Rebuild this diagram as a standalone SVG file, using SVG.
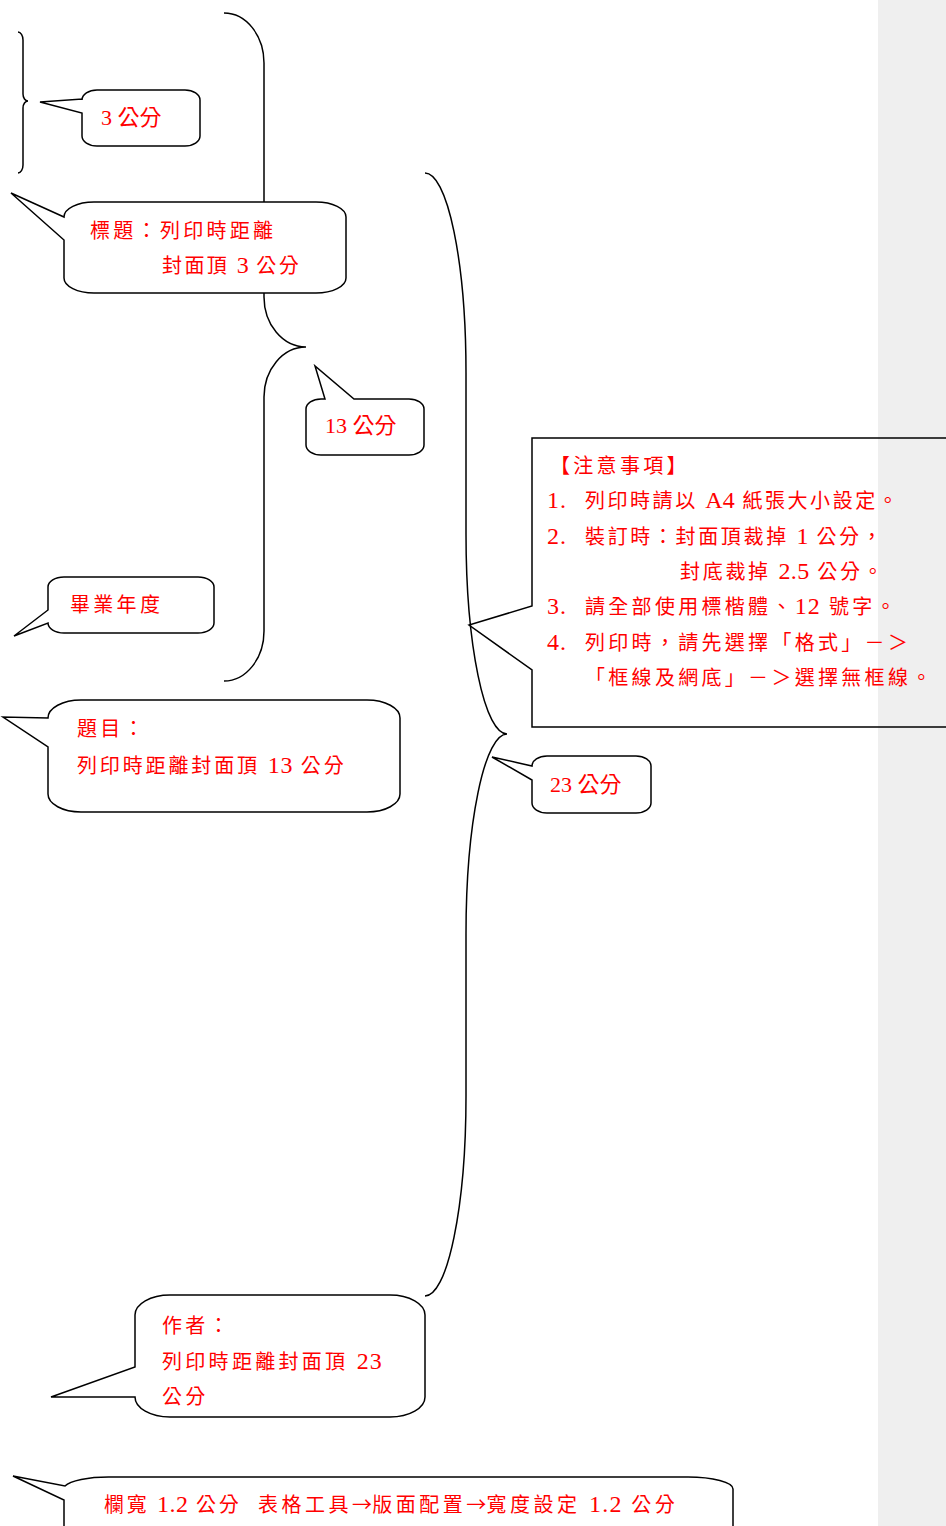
<svg xmlns="http://www.w3.org/2000/svg" width="946" height="1526" viewBox="0 0 946 1526">
<style>
.ln{fill:none;stroke:#000;stroke-width:1.5}
.co{fill:#fff;stroke:#000;stroke-width:1.5;stroke-linejoin:miter}
.cn{fill:none;stroke:#000;stroke-width:1.5;stroke-linejoin:miter}
.t{font-family:"Liberation Serif","Noto Sans CJK TC",serif;font-size:20px;fill:#f00;letter-spacing:3.3px}
.s{font-family:"Liberation Serif","Noto Sans CJK TC",serif;font-size:22px;fill:#f00}
.d{font-size:24px;letter-spacing:1px}
.a{font-family:"Noto Sans CJK TC",sans-serif;letter-spacing:0}
</style>
<rect x="0" y="0" width="946" height="1526" fill="#fff"/>
<rect x="878" y="0" width="68" height="1526" fill="#efefef"/>

<g id="connectors">
  <path class="ln" d="M18,32 A5,8 0 0 1 23,40 L23,94 A5,7 0 0 0 28,101 A5,7 0 0 0 23,108 L23,165 A5,8 0 0 1 18,173"/>
  <path class="ln" d="M224,13 A40,50 0 0 1 264,63 L264,297 A42,50 0 0 0 306,347 A42,50 0 0 0 264,397 L264,631 A40,50 0 0 1 224,681"/>
  <path class="ln" d="M425,173 A41,200 0 0 1 466,373 L466,534 A41,200 0 0 0 507,734 A41,200 0 0 0 466,934 L466,1096 A41,200 0 0 1 425,1296"/>
</g>

<g id="node-3cm">
  <path class="co" d="M97,90 L185,90 A15,10 0 0 1 200,100 L200,136 A15,10 0 0 1 185,146 L97,146 A15,10 0 0 1 82,136 L82,113 L40,102 L82,99 L82,100 A15,10 0 0 1 97,90 Z"/>
  <text class="s" x="101" y="125">3 公分</text>
</g>

<g id="node-title">
  <path class="co" d="M94,202 L316,202 A30,15 0 0 1 346,217 L346,278 A30,15 0 0 1 316,293 L94,293 A30,15 0 0 1 64,278 L64,240 L11,193 L64,217 A30,15 0 0 1 94,202 Z"/>
  <text class="t" x="90" y="238">標題：列印時距離</text>
  <text class="t" x="162" y="273" textLength="140">封面頂 <tspan class="d">3</tspan> 公分</text>
</g>

<g id="node-13cm">
  <path class="co" d="M321,399 L325,399 L315,366 L354,399 L409,399 A15,10 0 0 1 424,409 L424,445 A15,10 0 0 1 409,455 L321,455 A15,10 0 0 1 306,445 L306,409 A15,10 0 0 1 321,399 Z"/>
  <text class="s" x="325" y="433">13 公分</text>
</g>

<g id="node-year">
  <path class="co" d="M64,577 L198,577 A16,10 0 0 1 214,587 L214,623 A16,10 0 0 1 198,633 L64,633 A16,10 0 0 1 48,623 L14,636 L48,610 L48,587 A16,10 0 0 1 64,577 Z"/>
  <text class="t" x="70" y="612">畢業年度</text>
</g>

<g id="node-subject">
  <path class="co" d="M81,700 L367,700 A33,18 0 0 1 400,718 L400,794 A33,18 0 0 1 367,812 L81,812 A33,18 0 0 1 48,794 L48,747 L3,717 L48,718 A33,18 0 0 1 81,700 Z"/>
  <text class="t" x="77" y="736">題目：</text>
  <text class="t" x="77" y="773" textLength="270">列印時距離封面頂 <tspan class="d">13</tspan> 公分</text>
</g>

<g id="node-notes">
  <path class="cn" d="M960,438 L532,438 L532,606 L469,625 L532,670 L532,727 L960,727"/>
  <text class="t" x="550" y="473">【注意事項】</text>
  <text class="t d" x="547" y="508">1.</text>
  <text class="t" x="585" y="508" textLength="316">列印時請以 <tspan class="d">A4</tspan> 紙張大小設定。</text>
  <text class="t d" x="547" y="544">2.</text>
  <text class="t" x="585" y="544" textLength="300">裝訂時：封面頂裁掉 <tspan class="d">1</tspan> 公分，</text>
  <text class="t" x="680" y="579" textLength="206">封底裁掉 <tspan class="d">2.5</tspan> 公分。</text>
  <text class="t d" x="547" y="614">3.</text>
  <text class="t" x="585" y="614">請全部使用標楷體、<tspan class="d">12</tspan> 號字。</text>
  <text class="t d" x="547" y="650">4.</text>
  <text class="t" x="585" y="650">列印時，請先選擇「格式」－＞</text>
  <text class="t" x="585" y="685">「框線及網底」－＞選擇無框線。</text>
</g>

<g id="node-23cm">
  <path class="co" d="M547,756 L636,756 A15,10 0 0 1 651,766 L651,803 A15,10 0 0 1 636,813 L547,813 A15,10 0 0 1 532,803 L532,780 L492,757 L532,766 A15,10 0 0 1 547,756 Z"/>
  <text class="s" x="550" y="792">23 公分</text>
</g>

<g id="node-author">
  <path class="co" d="M170,1295 L390,1295 A35,20 0 0 1 425,1315 L425,1397 A35,20 0 0 1 390,1417 L170,1417 A35,20 0 0 1 135,1397 L51,1397 L135,1367 L135,1315 A35,20 0 0 1 170,1295 Z"/>
  <text class="t" x="162" y="1333">作者：</text>
  <text class="t" x="162" y="1369">列印時距離封面頂 <tspan class="d">23</tspan></text>
  <text class="t" x="162" y="1404">公分</text>
</g>

<g id="node-column">
  <path class="co" d="M65,1486 A45,12 0 0 1 109,1477 L688,1477 A45,12 0 0 1 733,1489 L733,1545 L64,1545 L64,1500 L13,1476 Z"/>
  <text class="t" x="104" y="1512" textLength="138">欄寬 <tspan class="d">1.2</tspan> 公分</text>
  <text class="t" x="258" y="1512" textLength="420">表格工具<tspan class="a">→</tspan>版面配置<tspan class="a">→</tspan>寬度設定 <tspan class="d">1.2</tspan> 公分</text>
</g>
</svg>
